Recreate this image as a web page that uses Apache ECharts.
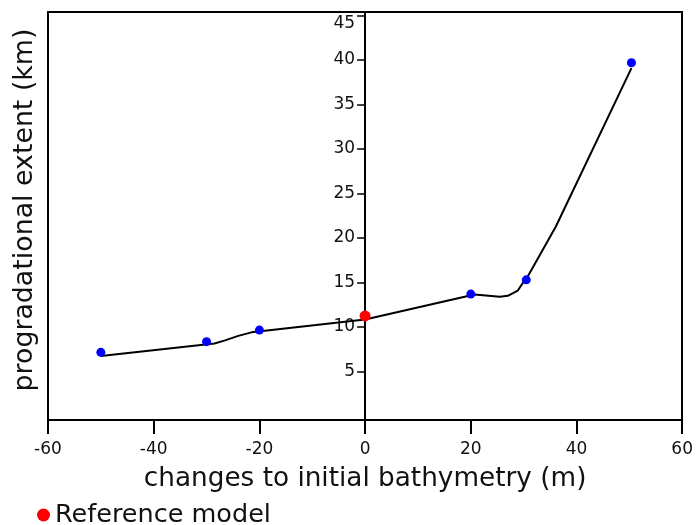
<!DOCTYPE html>
<html>
<head>
<meta charset="utf-8">
<script src="https://cdn.jsdelivr.net/npm/echarts@6/dist/echarts.min.js"></script>
<style>
html,body{margin:0;padding:0;background:#fff;}
#chart{width:696px;height:525px;}
</style>
</head>
<body>
<div id="chart"></div>
<script>
// Curve (black line)
const curveX = [-50, -28.5, -26.5, -24, -21.5, 0, 20.7, 25.5, 27, 28.9, 29.8, 30.8, 33.6, 36.1, 50.4];
const curveY = [6.75, 8.15, 8.5, 9.0, 9.4, 10.85, 13.65, 13.4, 13.5, 14.1, 14.9, 15.7, 18.65, 21.3, 39.1];
// Model runs (blue dots)
const runX = [-50, -30, -20, 20, 30.5, 50.4];
const runY = [7.15, 8.35, 9.65, 13.7, 15.3, 39.7];
// Reference model (red dot)
const refX = [0];
const refY = [11.25];
// Axis ticks
const yTicks = [5, 10, 15, 20, 25, 30, 35, 40, 45];

const FONT = '"DejaVu Sans", Verdana, sans-serif';
const chart = echarts.init(document.getElementById('chart'), null, {renderer: 'canvas'});
const zip = (xs, ys) => xs.map((x, i) => [x, ys[i]]);
const GRID_LEFT = 48;
const X_MIN = -60, X_MAX = 60, Y_MIN = -0.45, Y_MAX = 45.4;
const frameLine = {show: true, onZero: false, lineStyle: {color: '#000', width: 2}};
const off = {show: false};

const option = {
  animation: false,
  backgroundColor: '#fff',
  grid: {left: GRID_LEFT, right: 9, top: 12, bottom: 105},
  xAxis: [{
    type: 'value', min: X_MIN, max: X_MAX, interval: 20, position: 'bottom',
    name: 'changes to initial bathymetry (m)', nameLocation: 'middle', nameGap: 46,
    nameTextStyle: {fontFamily: FONT, fontSize: 26.3, color: '#111'},
    axisLine: frameLine,
    axisTick: {show: true, length: 14, lineStyle: {color: '#000', width: 2}},
    axisLabel: {fontFamily: FONT, fontSize: 17, color: '#111', margin: 21},
    splitLine: off
  }, {
    type: 'value', min: X_MIN, max: X_MAX, interval: 20, position: 'bottom',
    axisLine: {show: false, onZero: false},
    axisTick: {show: true, length: 14, lineStyle: {color: '#000', width: 2}},
    axisLabel: off, splitLine: off
  }, {
    type: 'value', min: X_MIN, max: X_MAX, position: 'top',
    axisLine: frameLine, axisTick: off, axisLabel: off, splitLine: off
  }],
  yAxis: [{
    type: 'value', min: Y_MIN, max: Y_MAX, position: 'left', offset: 0,
    axisLine: {show: true, onZero: false, lineStyle: {color: '#000', width: 2}},
    axisTick: {show: true, length: 8, lineStyle: {color: '#000', width: 1.5}, customValues: yTicks},
    axisLabel: {
      fontFamily: FONT, fontSize: 17, color: '#111', margin: 10, customValues: yTicks,
      formatter: v => (v === 45 ? '{top|45}' : String(v)),
      rich: {top: {fontFamily: FONT, fontSize: 17, color: '#111', padding: [16, 0, 0, 0]}}
    },
    splitLine: off
  }, {
    type: 'value', min: Y_MIN, max: Y_MAX, position: 'right',
    axisLine: frameLine, axisTick: off, axisLabel: off, splitLine: off
  }, {
    type: 'value', min: Y_MIN, max: Y_MAX, position: 'left', offset: 0,
    axisLine: frameLine, axisTick: off, axisLabel: off, splitLine: off
  }],
  legend: {
    data: [{name: 'Reference model', icon: 'circle'}],
    left: 32, top: 497, itemWidth: 13, itemHeight: 13, itemGap: 8,
    textStyle: {fontFamily: FONT, fontSize: 25.5, color: '#111'}
  },
  graphic: [{
    type: 'text', x: 25, y: 210, rotation: Math.PI / 2,
    style: {text: 'progradational extent (km)', font: '26.8px ' + FONT, fill: '#111',
            textAlign: 'center', textVerticalAlign: 'middle'}
  }],
  series: [
    {type: 'line', name: 'curve', xAxisIndex: 0, yAxisIndex: 0, data: zip(curveX, curveY),
     showSymbol: false, symbol: 'none', lineStyle: {color: '#000', width: 2}, z: 2},
    {type: 'scatter', name: 'runs', xAxisIndex: 0, yAxisIndex: 0, data: zip(runX, runY), symbolSize: 9,
     itemStyle: {color: '#0000ff', opacity: 1}, z: 3},
    {type: 'scatter', name: 'Reference model', xAxisIndex: 0, yAxisIndex: 0, data: zip(refX, refY), symbolSize: 11,
     itemStyle: {color: '#ff0000', opacity: 1}, z: 4}
  ]
};
chart.setOption(option);
// place the main y axis on x = 0
const zeroPx = chart.convertToPixel({xAxisIndex: 0}, 0);
chart.setOption({yAxis: [{offset: -(zeroPx - GRID_LEFT)}, {}, {}]});
</script>
</body>
</html>
